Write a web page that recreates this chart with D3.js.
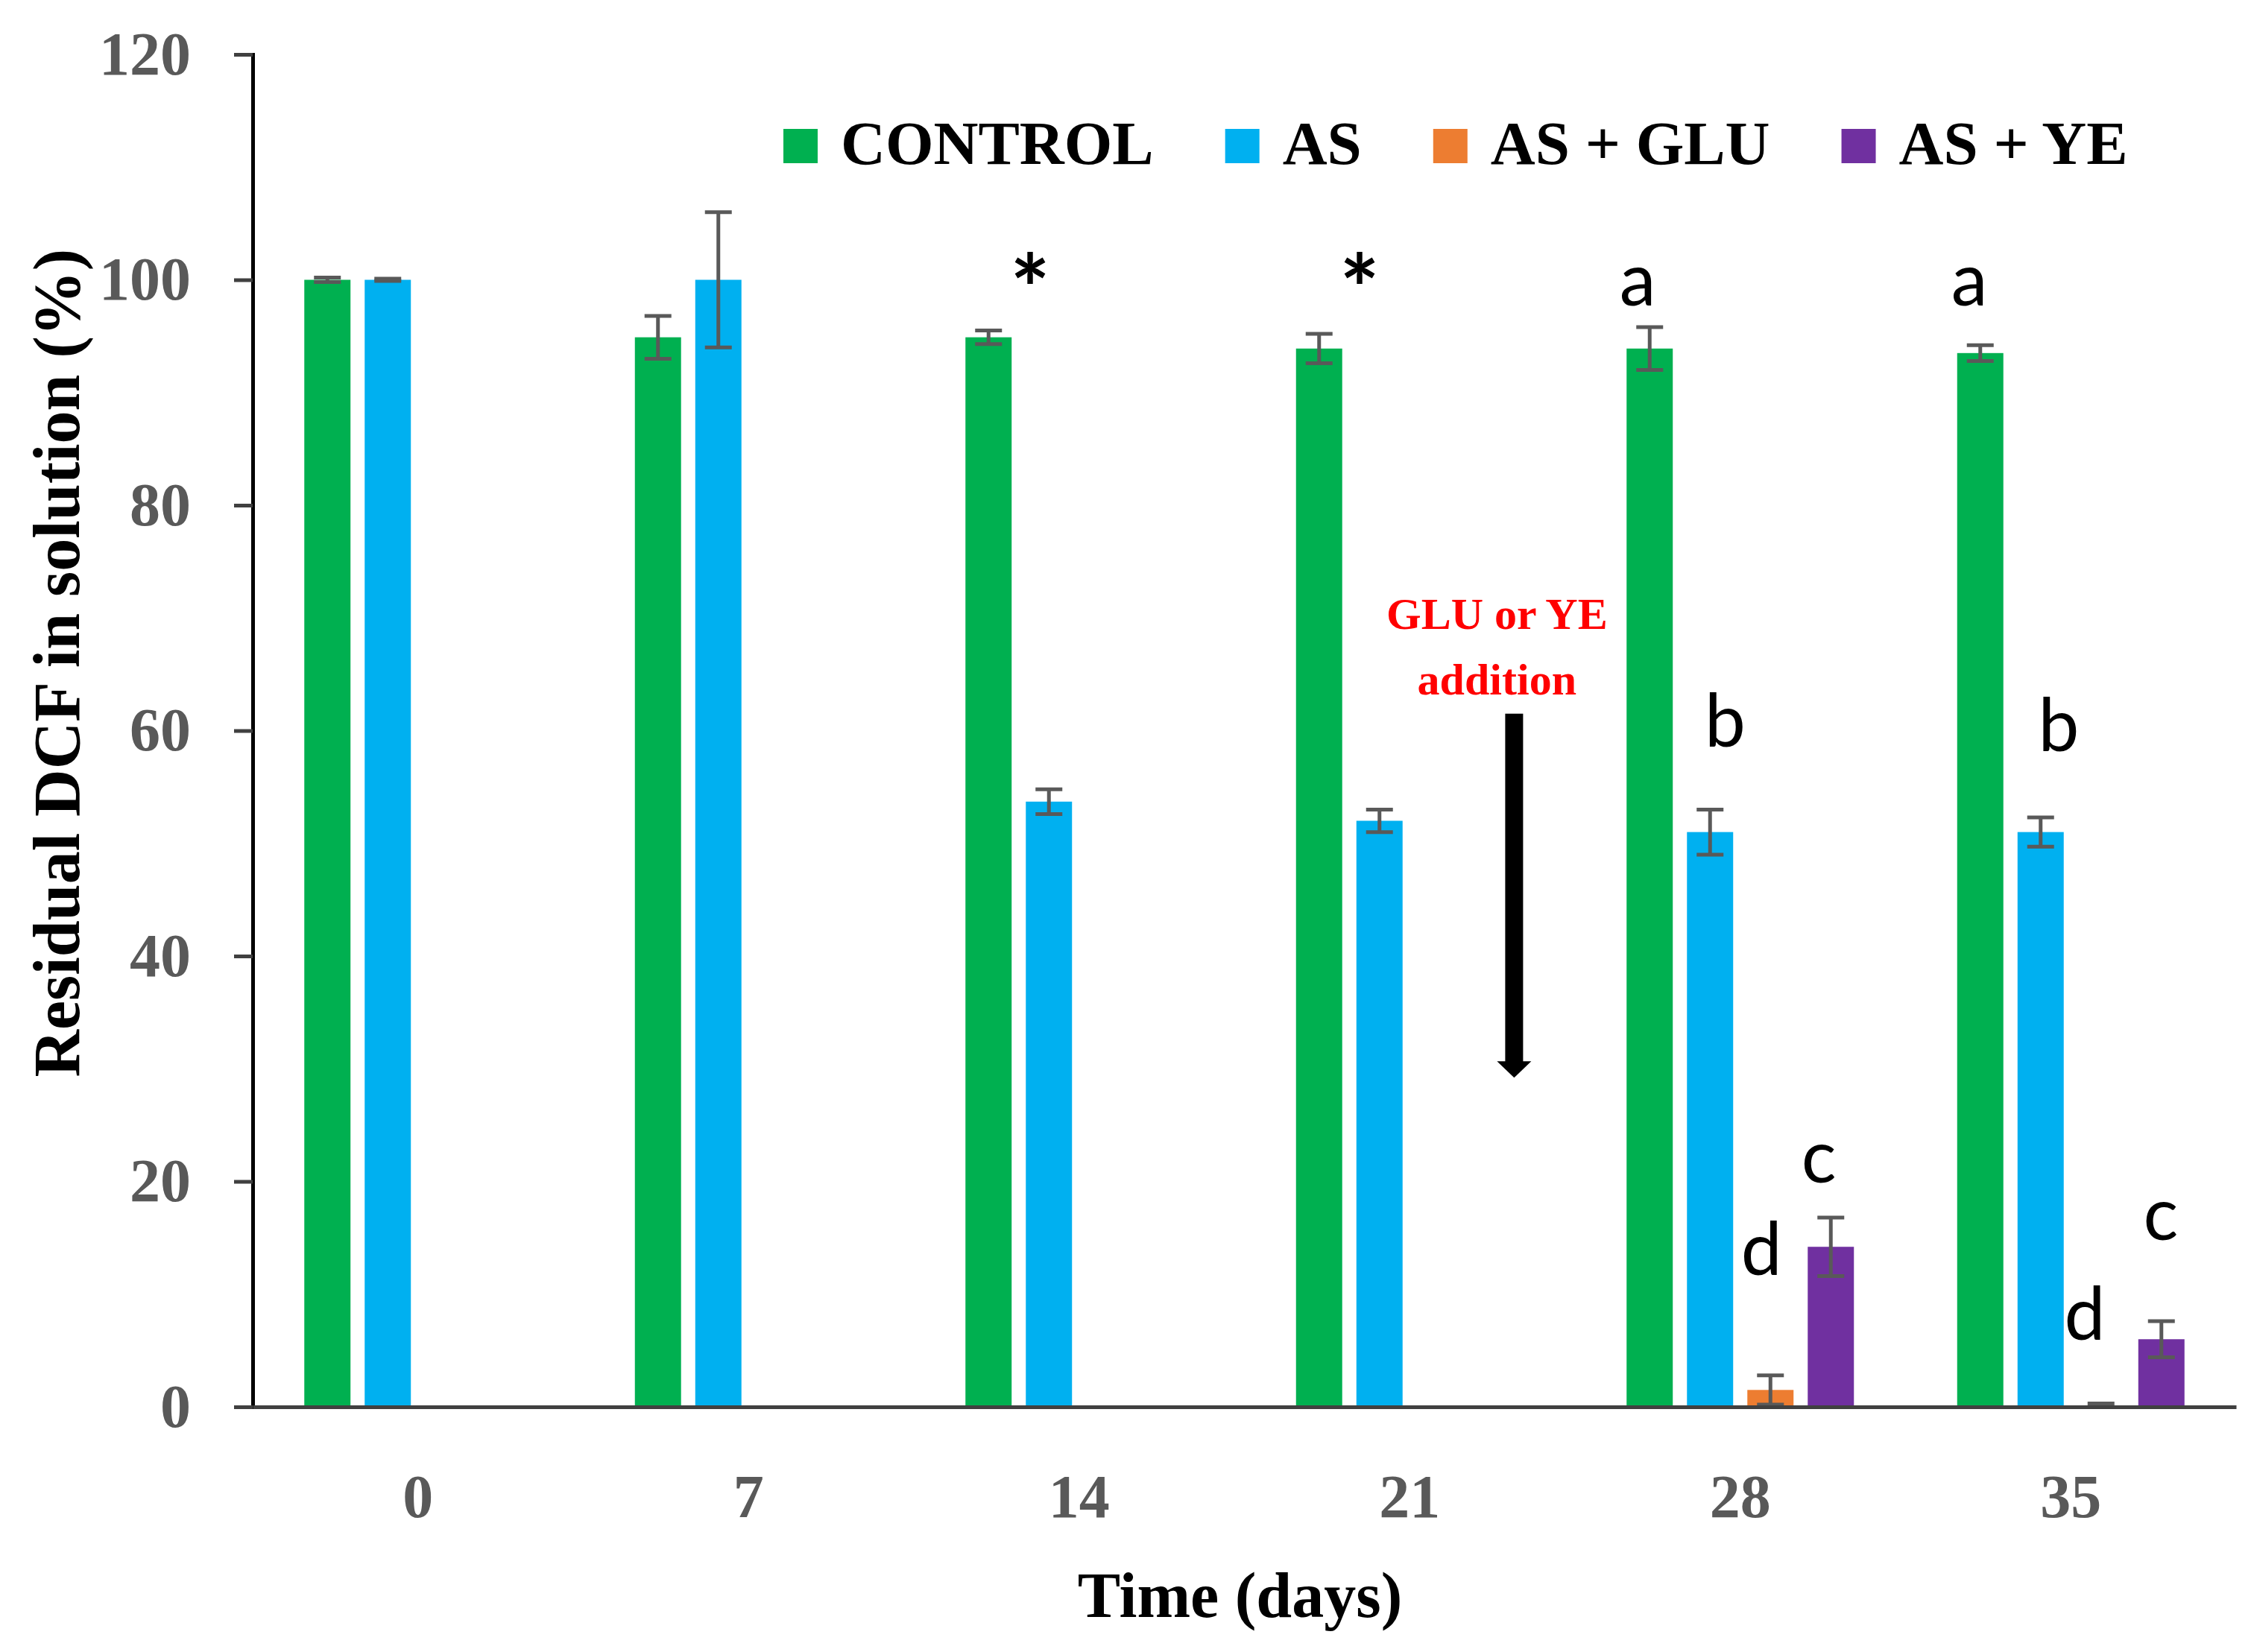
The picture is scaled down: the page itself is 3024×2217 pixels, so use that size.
<!DOCTYPE html>
<html>
<head>
<meta charset="utf-8">
<script src="https://cdn.jsdelivr.net/npm/d3@7"></script>
<style>
  body { margin: 0; background: #fff; }
  svg { display: block; }
</style>
</head>
<body>
<div id="chart"></div>
<script>
// Days on the x axis
const days = ['0', '7', '14', '21', '28', '35'];
const seriesNames = ['CONTROL', 'AS', 'AS + GLU', 'AS + YE'];
const seriesColors = ['#00B050', '#00B0F0', '#ED7D31', '#7030A0'];

// Residual DCF (%) per series, one value per day (null = not measured)
const controlValues = [100, 94.9, 94.9, 93.9, 93.9, 93.5];
const asValues = [100, 100, 53.7, 52.0, 51.0, 51.0];
const glulValues = [null, null, null, null, 1.5, 0.1];
const yeValues = [null, null, null, null, 14.2, 6.0];

// Standard deviations
const controlErr = [0.2, 1.9, 0.6, 1.3, 1.9, 0.7];
const asErr = [0.1, 6.0, 1.1, 1.0, 2.0, 1.3];
const gluErr = [null, null, null, null, 1.3, 0.2];
const yeErr = [null, null, null, null, 2.6, 1.6];

const yTicks = [0, 20, 40, 60, 80, 100, 120];

// Significance letters: day, series position in the group, baseline value
const letterDays = ['28', '28', '28', '28', '35', '35', '35', '35'];
const letterPos = [-0.2, 1.25, 1.85, 2.8, -0.18, 1.3, 1.73, 2.99];
const letterValues = [97.7, 58.6, 11.7, 19.9, 97.7, 58.2, 5.95, 14.8];
const letterTexts = ['a', 'b', 'd', 'c', 'a', 'b', 'd', 'c'];

const starDays = ['14', '21'];
const starPos = [0.69, 0.67];
const starValue = 101.3;

const values = [controlValues, asValues, glulValues, yeValues];
const errors = [controlErr, asErr, gluErr, yeErr];

const W = 3024, H = 2217;
const margin = { top: 73, right: 24, bottom: 329, left: 339 };
const width = W - margin.left - margin.right;
const height = H - margin.top - margin.bottom;

const svg = d3.select('#chart')
    .append('svg')
    .attr('width', W)
    .attr('height', H);

const g = svg.append('g')
    .attr('transform', `translate(${margin.left},${margin.top})`);

const x0 = d3.scaleBand().domain(days).range([0, width]).padding(0);
const x1 = d3.scaleBand()
    .domain(d3.range(seriesNames.length))
    .range([0, x0.bandwidth()])
    .paddingInner(0.235)
    .paddingOuter(0.855);
const y = d3.scaleLinear().domain([0, 120]).range([height, 0]);

const serif = "'Liberation Serif', 'Times New Roman', serif";
const sans = "Lato, 'Open Sans', sans-serif";

// Flatten into bar records
const bars = [];
days.forEach((day, i) => {
    values.forEach((vals, s) => {
        if (vals[i] == null) return;
        bars.push({ day, s, value: vals[i], err: errors[s][i] });
    });
});

// Bars
g.selectAll('rect.bar')
    .data(bars)
    .join('rect')
    .attr('class', 'bar')
    .attr('x', d => x0(d.day) + x1(d.s))
    .attr('y', d => y(d.value))
    .attr('width', x1.bandwidth())
    .attr('height', d => y(0) - y(d.value))
    .attr('fill', d => seriesColors[d.s]);

// Error bars
const capW = 36;
const eb = g.selectAll('g.err')
    .data(bars)
    .join('g')
    .attr('class', 'err')
    .attr('stroke', '#595959')
    .attr('stroke-width', 5);

eb.append('line')
    .attr('x1', d => x0(d.day) + x1(d.s) + x1.bandwidth() / 2)
    .attr('x2', d => x0(d.day) + x1(d.s) + x1.bandwidth() / 2)
    .attr('y1', d => y(d.value + d.err))
    .attr('y2', d => y(Math.max(0, d.value - d.err)));
eb.append('line')
    .attr('x1', d => x0(d.day) + x1(d.s) + x1.bandwidth() / 2 - capW / 2)
    .attr('x2', d => x0(d.day) + x1(d.s) + x1.bandwidth() / 2 + capW / 2)
    .attr('y1', d => y(d.value + d.err))
    .attr('y2', d => y(d.value + d.err));
eb.filter(d => d.value - d.err > 0).append('line')
    .attr('x1', d => x0(d.day) + x1(d.s) + x1.bandwidth() / 2 - capW / 2)
    .attr('x2', d => x0(d.day) + x1(d.s) + x1.bandwidth() / 2 + capW / 2)
    .attr('y1', d => y(d.value - d.err))
    .attr('y2', d => y(d.value - d.err));

// Y axis
const yAxis = g.append('g')
    .call(d3.axisLeft(y).tickValues(yTicks).tickSize(25).tickPadding(58).tickFormat(d3.format('d')));
yAxis.select('.domain').attr('stroke', '#000').attr('stroke-width', 5);
yAxis.selectAll('.tick line').attr('stroke', '#404040').attr('stroke-width', 5);
yAxis.selectAll('.tick text')
    .attr('fill', '#595959')
    .style('font-family', serif)
    .style('font-weight', 'bold')
    .style('font-size', '82px');

// X axis
const xAxis = g.append('g')
    .attr('transform', `translate(0,${height})`)
    .call(d3.axisBottom(x0).tickSize(0).tickPadding(90));
xAxis.select('.domain').attr('stroke', '#404040').attr('stroke-width', 5);
xAxis.selectAll('.tick text')
    .attr('fill', '#595959')
    .style('font-family', serif)
    .style('font-weight', 'bold')
    .style('font-size', '82px');

// Axis titles
svg.append('text')
    .attr('transform', `translate(106,${margin.top + y(66)})rotate(-90)`)
    .attr('text-anchor', 'middle')
    .style('font-family', serif)
    .style('font-weight', 'bold')
    .style('font-size', '88px')
    .text('Residual DCF in solution (%)');

svg.append('text')
    .attr('x', margin.left + width / 2 - 6)
    .attr('y', 2170)
    .attr('text-anchor', 'middle')
    .style('font-family', serif)
    .style('font-weight', 'bold')
    .style('font-size', '86px')
    .text('Time (days)');

// Significance letters
g.selectAll('text.letter')
    .data(letterTexts)
    .join('text')
    .attr('class', 'letter')
    .attr('x', (d, i) => x0(letterDays[i]) + x1(0) + x1.step() * letterPos[i] + x1.bandwidth() / 2)
    .attr('y', (d, i) => y(letterValues[i]))
    .attr('text-anchor', 'middle')
    .style('font-family', sans)
    .style('font-size', '98px')
    .text(d => d);

g.selectAll('text.star')
    .data(starDays)
    .join('text')
    .attr('class', 'star')
    .attr('x', (d, i) => x0(d) + x1(0) + x1.step() * starPos[i] + x1.bandwidth() / 2)
    .attr('y', y(starValue))
    .attr('dy', '0.62em')
    .attr('text-anchor', 'middle')
    .style('font-family', sans)
    .style('font-weight', 'bold')
    .style('font-size', '126px')
    .text('*');

// GLU or YE addition note with arrow, placed between day 21 and day 28
const noteX = x0('21') + x0.bandwidth() / 2 + x0.bandwidth() * 0.264;
const arrowX = x0('21') + x0.bandwidth() / 2 + x0.bandwidth() * 0.316;
const note = g.append('text')
    .attr('text-anchor', 'middle')
    .attr('fill', '#FF0000')
    .style('font-family', serif)
    .style('font-weight', 'bold')
    .style('font-size', '60px');
note.append('tspan').attr('x', noteX).attr('y', y(69.0)).text('GLU or YE');
note.append('tspan').attr('x', noteX).attr('y', y(63.2)).text('addition');

g.append('line')
    .attr('x1', arrowX).attr('x2', arrowX)
    .attr('y1', y(61.5)).attr('y2', y(29.2) - 20)
    .attr('stroke', '#000')
    .attr('stroke-width', 24);
g.append('path')
    .attr('d', `M${arrowX - 23},${y(29.2) - 22} L${arrowX + 23},${y(29.2) - 22} L${arrowX},${y(29.2)} Z`)
    .attr('fill', '#000');

// Legend
const legend = svg.append('g');
let lx = 1051;
seriesNames.forEach((name, i) => {
    legend.append('rect')
        .attr('x', lx).attr('y', 173)
        .attr('width', 46).attr('height', 46)
        .attr('fill', seriesColors[i]);
    const t = legend.append('text')
        .attr('x', lx + 77).attr('y', 220)
        .style('font-family', serif)
        .style('font-weight', 'bold')
        .style('font-size', '83px')
        .text(name);
    lx += 77 + t.node().getComputedTextLength() + 96;
});
</script>
</body>
</html>
